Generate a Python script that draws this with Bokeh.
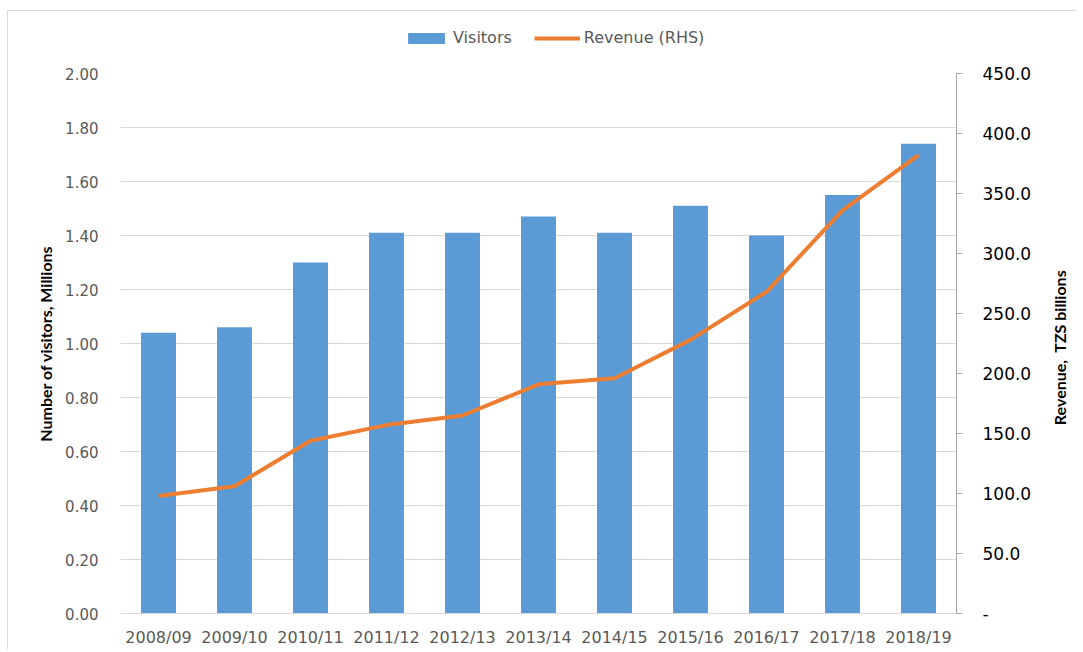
import math
from bokeh.plotting import figure
from bokeh.layouts import column, row
from bokeh.models import (Range1d, LinearAxis, FixedTicker, PrintfTickFormatter,
                          Legend, LegendItem, ColumnDataSource, Label)
from bokeh.embed import file_html
from bokeh.resources import INLINE

years = ["2008/09", "2009/10", "2010/11", "2011/12", "2012/13", "2013/14",
         "2014/15", "2015/16", "2016/17", "2017/18", "2018/19"]
visitors = [1.04, 1.06, 1.30, 1.41, 1.41, 1.47, 1.41, 1.51, 1.40, 1.55, 1.74]
revenue = [98, 106, 144, 157, 165, 191, 196, 228, 268, 336, 382]
left_ticks = [0.0, 0.2, 0.4, 0.6, 0.8, 1.0, 1.2, 1.4, 1.6, 1.8, 2.0]
right_ticks = [0, 50, 100, 150, 200, 250, 300, 350, 400, 450]

BAR_COLOR = "#5B9BD5"
LINE_COLOR = "#ED7D31"

src = ColumnDataSource(dict(year=years, visitors=visitors, revenue=revenue))

# ---------------- main chart ----------------
p = figure(x_range=years, y_range=Range1d(0, 2.0),
           frame_width=836, frame_height=540,
           min_border_left=112, min_border_right=89,
           min_border_top=12, min_border_bottom=36,
           output_backend="svg", toolbar_location=None)
p.outline_line_color = None
p.extra_y_ranges = {"rev": Range1d(0, 450)}

bars = p.vbar(x="year", top="visitors", width=0.46, source=src,
              fill_color=BAR_COLOR, line_color=None)
line = p.line(x="year", y="revenue", source=src, y_range_name="rev",
              line_color=LINE_COLOR, line_width=4)

p.xgrid.grid_line_color = None
p.ygrid.grid_line_color = "#d9d9d9"
p.ygrid.grid_line_width = 1

ly = p.yaxis[0]
ly.ticker = FixedTicker(ticks=left_ticks)
ly.formatter = PrintfTickFormatter(format="%.2f")
ly.axis_line_color = None
ly.major_tick_line_color = None
ly.minor_tick_line_color = None
ly.major_label_text_color = "#595959"
ly.major_label_text_font = "DejaVu Sans"
ly.major_label_text_font_size = "15px"
ly.major_label_standoff = 16
ly.axis_label = "Number of visitors, Millions"
ly.axis_label_text_font = "Lato"
ly.axis_label_text_font_style = "bold"
ly.axis_label_text_font_size = "16px"
ly.axis_label_text_color = "black"
ly.axis_label_standoff = 7

bx = p.xaxis[0]
bx.axis_line_color = "#d9d9d9"
bx.major_tick_line_color = None
bx.minor_tick_line_color = None
bx.major_label_text_color = "#595959"
bx.major_label_text_font = "DejaVu Sans"
bx.major_label_text_font_size = "16px"
bx.major_label_standoff = 8

ry = LinearAxis(y_range_name="rev")
ry.ticker = FixedTicker(ticks=right_ticks)
ry.formatter = PrintfTickFormatter(format="%.1f")
ry.major_label_overrides = {0: "-"}
ry.axis_line_color = "#a6a6a6"
ry.major_tick_line_color = "#a6a6a6"
ry.major_tick_in = 0
ry.major_tick_out = 6
ry.minor_tick_line_color = None
ry.major_label_text_color = "black"
ry.major_label_text_font = "DejaVu Sans"
ry.major_label_text_font_size = "17px"
ry.major_label_standoff = 20
p.add_layout(ry, "right")

# ---------------- right-hand axis title (reads bottom to top) ----------------
t = figure(width=30, height=588, x_range=Range1d(0, 1), y_range=Range1d(0, 1),
           x_axis_type=None, y_axis_type=None,
           min_border=0, output_backend="svg", toolbar_location=None)
t.outline_line_color = None
t.grid.visible = False
t.add_layout(Label(x=14, y=266, x_units="screen", y_units="screen",
                   text="Revenue,\u00a0 TZS billions", angle=math.pi / 2,
                   text_align="center", text_baseline="middle",
                   text_font="Lato", text_font_style="bold",
                   text_font_size="16px", text_color="black"))

# ---------------- legend strip ----------------
lg = figure(width=1068, height=50, x_range=Range1d(0, 1), y_range=Range1d(0, 1),
            x_axis_type=None, y_axis_type=None,
            min_border=0, output_backend="svg", toolbar_location=None)
lg.outline_line_color = None
lg.grid.visible = False
# hidden key renderers (not drawn; only used for the legend swatches)
key_bar = lg.vbar(x="visitors", top="visitors", width=0.5, source=src,
                  fill_color=BAR_COLOR, line_color=None, visible=False)
key_line = lg.line(x="revenue", y="revenue", source=src,
                   line_color=LINE_COLOR, line_width=4, visible=False)
legend = Legend(items=[LegendItem(label="Visitors", renderers=[key_bar]),
                       LegendItem(label="Revenue (RHS)", renderers=[key_line])],
                orientation="horizontal", location=(395, 14),
                glyph_width=46, glyph_height=14, spacing=22, padding=0, margin=0,
                label_standoff=4,
                label_text_color="#595959", label_text_font="DejaVu Sans",
                label_text_font_size="16px",
                background_fill_alpha=0, border_line_color=None)
lg.add_layout(legend, "center")

layout = column(lg, row(p, t, spacing=0), spacing=0)
layout.margin = (10, 0, 0, 7)
layout.styles = {"border-left": "1px solid #d9d9d9", "border-top": "1px solid #d9d9d9"}

open("out.html", "w").write(file_html(layout, INLINE))
